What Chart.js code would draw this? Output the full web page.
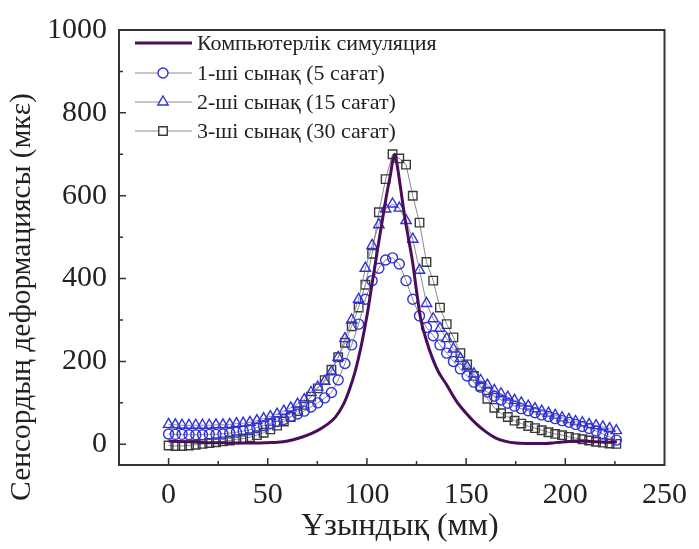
<!DOCTYPE html>
<html><head><meta charset="utf-8">
<script src="https://cdn.jsdelivr.net/npm/chart.js@4.4.0/dist/chart.umd.min.js"></script>
<style>html,body{margin:0;padding:0;background:#fff}#wrap{width:699px;height:549px;position:relative}</style>
</head><body><div id="wrap"><canvas id="c" width="699" height="549"></canvas></div>
<script>
// ---------- data ----------
const seriesNames = ["Компьютерлік симуляция", "1-ші сынақ (5 сағат)", "2-ші сынақ (15 сағат)", "3-ші сынақ (30 сағат)"];
const xTitle = "Ұзындық (мм)";
const yTitle = "Сенсордың деформациясы (мкε)";
const xTicks = [0, 50, 100, 150, 200, 250];
const xMinorTicks = [25, 75, 125, 175, 225];
const yTicks = [0, 200, 400, 600, 800, 1000];
const yMinorTicks = [100, 300, 500, 700, 900];

const simX = [0,5,10,15,20,25,30,35,40,45,50,55,60,65,70,75,80,84,88,91,94,97,100,102,104,106,108,110,112,113,114,115,116,117.5,119,121,123,125,127,130,133,136,140,145,150,155,160,165,170,175,180,185,190,195,200,205,210,215,220,226];
const simY = [8,7,6,5,4,4,3,3,3,3,4,5,8,14,22,33,48,65,95,130,175,235,310,370,430,490,548,605,655,685,700,680,650,600,550,495,440,370,305,250,208,175,145,105,75,50,30,15,7,3,2,2,2,4,6,8,8,6,5,6];

const testX = [0,3.4,6.8,10.3,13.7,17.1,20.5,23.9,27.4,30.8,34.2,37.6,41.0,44.5,47.9,51.3,54.7,58.1,61.6,65.0,68.4,71.8,75.2,78.7,82.1,85.5,88.9,92.3,95.8,99.2,102.6,106.0,109.4,112.9,116.3,119.7,123.1,126.5,130.0,133.4,136.8,140.2,143.6,147.1,150.5,153.9,157.3,160.7,164.2,167.6,171.0,174.4,177.8,181.3,184.7,188.1,191.5,194.9,198.4,201.8,205.2,208.6,212.0,215.5,218.9,222.3,225.7];
const test5h = [25,24,24,23,23,23,24,24,25,27,29,32,35,40,45,50,55,60,67,73,80,90,100,112,125,155,195,240,290,350,395,425,445,450,435,395,350,310,282,262,240,220,200,182,165,150,138,126,116,107,99,92,86,81,76,71,67,62,57,53,48,43,38,32,25,18,10];
const test15h = [48,47,46,46,46,46,46,47,47,48,50,51,53,57,62,67,73,80,88,97,108,125,138,152,175,210,255,300,350,425,480,530,568,580,570,540,495,420,340,303,280,255,230,207,187,170,154,143,130,122,114,106,100,92,86,80,75,70,64,60,55,52,48,45,42,38,33];
const test30h = [-3,-4,-4,-3,-1,1,3,5,7,9,12,14,17,22,28,36,45,55,66,80,95,115,135,155,180,210,245,285,330,385,460,560,640,700,690,675,600,535,440,395,330,290,258,220,193,165,140,110,88,75,66,57,50,44,39,34,29,25,22,18,15,12,9,6,4,2,1];

// ---------- styles ----------
const FONT = "'Liberation Serif', 'Times New Roman', serif";
const PURPLE = '#4a0d5c';
const BLUE = '#3232d8';
const SQ = '#3a3a3a';
const LINEGRAY = '#8a8a8a';

const toPts = (xs, ys) => xs.map((x, i) => ({x: x, y: ys[i]}));

const datasets = [
  {label: seriesNames[0], data: toPts(simX, simY), borderColor: PURPLE, borderWidth: 3, pointRadius: 0, cubicInterpolationMode: 'monotone'},
  {label: seriesNames[1], data: toPts(testX, test5h), borderColor: LINEGRAY, borderWidth: 1, pointStyle: 'circle', pointRadius: 5, pointBorderColor: BLUE, pointBackgroundColor: 'rgba(0,0,0,0)', pointBorderWidth: 1.4},
  {label: seriesNames[2], data: toPts(testX, test15h), borderColor: LINEGRAY, borderWidth: 1, pointStyle: 'triangle', pointRadius: 6, pointBorderColor: BLUE, pointBackgroundColor: 'rgba(0,0,0,0)', pointBorderWidth: 1.4},
  {label: seriesNames[3], data: toPts(testX, test30h), borderColor: LINEGRAY, borderWidth: 1, pointStyle: 'rect', pointRadius: 6, pointBorderColor: SQ, pointBackgroundColor: 'rgba(0,0,0,0)', pointBorderWidth: 1.4}
];

const decor = {
  id: 'decor',
  afterDatasetsDraw(chart) {
    const ctx = chart.ctx, a = chart.chartArea;
    const xs = chart.scales.x, ys = chart.scales.y;
    ctx.save();
    ctx.strokeStyle = '#333';
    ctx.lineWidth = 2;
    ctx.strokeRect(a.left, a.top, a.right - a.left, a.bottom - a.top);
    ctx.lineWidth = 1.5;
    ctx.beginPath();
    xTicks.forEach(v => { const p = xs.getPixelForValue(v); if (p > a.left + 2 && p < a.right - 2) { ctx.moveTo(p, a.bottom); ctx.lineTo(p, a.bottom - 7); } });
    xMinorTicks.forEach(v => { const p = xs.getPixelForValue(v); ctx.moveTo(p, a.bottom); ctx.lineTo(p, a.bottom - 4); });
    yTicks.forEach(v => { const p = ys.getPixelForValue(v); if (p > a.top + 2 && p < a.bottom - 2) { ctx.moveTo(a.left, p); ctx.lineTo(a.left + 7, p); } });
    yMinorTicks.forEach(v => { const p = ys.getPixelForValue(v); ctx.moveTo(a.left, p); ctx.lineTo(a.left + 4, p); });
    ctx.stroke();
    ctx.restore();
  },
  afterDraw(chart) {
    const ctx = chart.ctx;
    ctx.save();
    ctx.fillStyle = '#222';
    ctx.font = '32px ' + FONT;
    ctx.textAlign = 'center';
    ctx.textBaseline = 'middle';
    ctx.fillText(xTitle, 400, 527);
    ctx.font = '29.5px ' + FONT;
    ctx.translate(22, 297);
    ctx.rotate(-Math.PI / 2);
    ctx.fillText(yTitle, 0, 0);
    ctx.restore();

    // legend
    ctx.save();
    const rows = [43, 73, 102, 131];
    const x0 = 135, x1 = 192, mx = 163;
    chart.data.datasets.forEach((ds, i) => {
      const y = rows[i];
      ctx.beginPath();
      ctx.strokeStyle = ds.borderColor;
      ctx.lineWidth = ds.borderWidth;
      ctx.moveTo(x0, y); ctx.lineTo(x1, y); ctx.stroke();
      if (ds.pointRadius > 0) {
        ctx.strokeStyle = ds.pointBorderColor;
        ctx.fillStyle = '#fff';
        ctx.lineWidth = ds.pointBorderWidth;
        Chart.helpers.drawPoint(ctx, {pointStyle: ds.pointStyle, radius: ds.pointRadius, rotation: 0, borderWidth: ds.pointBorderWidth}, mx, y);
      }
      ctx.fillStyle = '#222';
      ctx.font = '22px ' + FONT;
      ctx.textAlign = 'left';
      ctx.textBaseline = 'middle';
      ctx.fillText(ds.label, 197, y + 1);
    });
    ctx.restore();
  }
};

new Chart(document.getElementById('c'), {
  type: 'line',
  data: {datasets: datasets},
  options: {
    responsive: false,
    animation: false,
    devicePixelRatio: 1,
    layout: {padding: {top: 25, right: 27, left: 0, bottom: 0}},
    plugins: {legend: {display: false}, tooltip: {enabled: false}},
    scales: {
      x: {
        type: 'linear', min: -25, max: 250,
        afterBuildTicks: s => { s.ticks = xTicks.map(v => ({value: v})); },
        afterFit: s => { s.height = 84; },
        grid: {display: false, drawTicks: false},
        border: {display: false},
        ticks: {padding: 12, color: '#222', font: {family: FONT, size: 30}, maxRotation: 0, autoSkip: false, callback: v => String(v)}
      },
      y: {
        type: 'linear', min: -50, max: 1000,
        afterBuildTicks: s => { s.ticks = yTicks.map(v => ({value: v})); },
        afterFit: s => { s.width = 119; },
        grid: {display: false, drawTicks: false},
        border: {display: false},
        ticks: {padding: 12, color: '#222', font: {family: FONT, size: 30}, autoSkip: false, callback: v => String(v)}
      }
    }
  },
  plugins: [decor]
});
</script>
</body></html>
